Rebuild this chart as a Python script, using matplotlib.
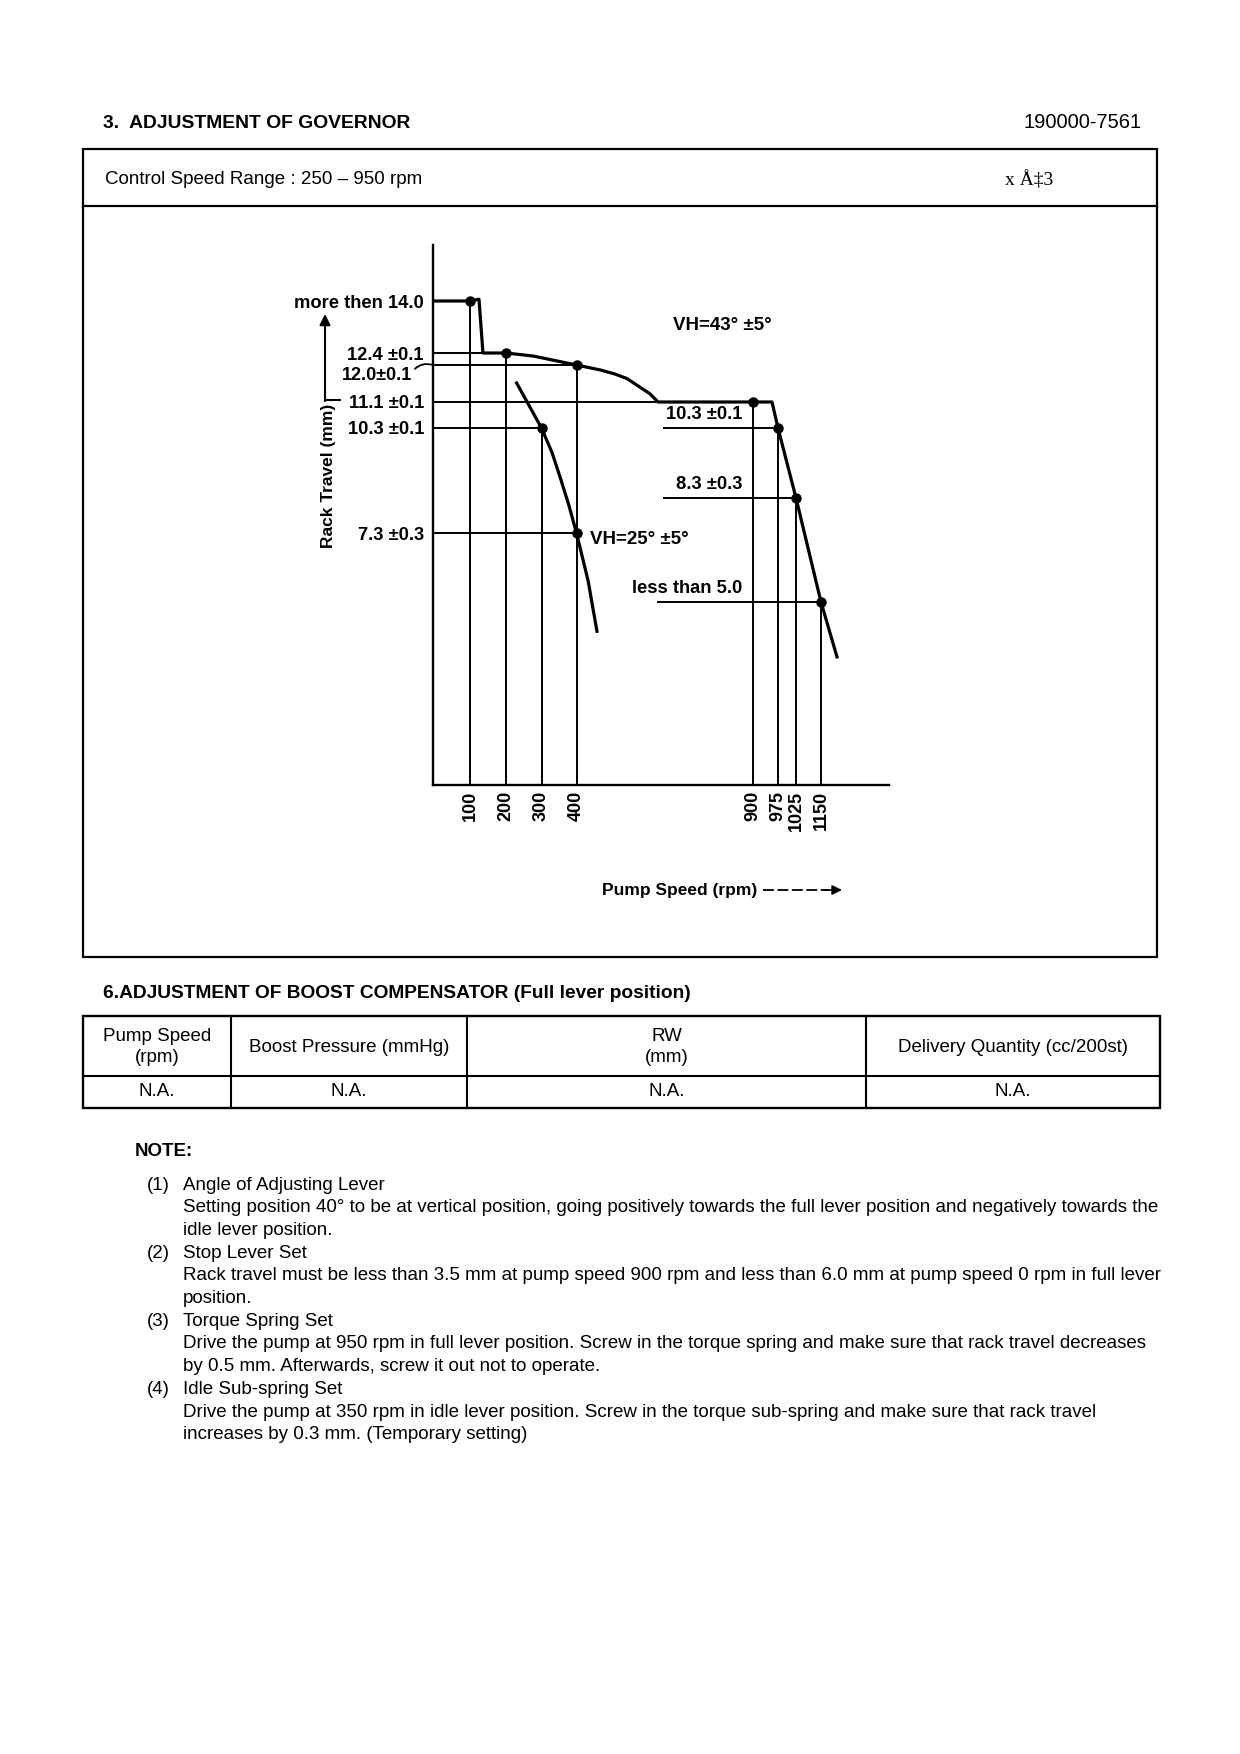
import numpy as np
import matplotlib
matplotlib.use("Agg")
import matplotlib.pyplot as plt
from matplotlib.patches import Rectangle

plt.rcParams['font.family'] = ['Liberation Sans', 'DejaVu Sans']

# Governor curve data (rpm, rack travel mm)
full_rpm = [0, 100, 125, 136, 200, 276, 400, 467, 509, 543, 580, 608, 631, 900, 957, 975, 1025, 1150, 1197]
full_mm = [14.0, 14.0, 14.05, 12.4, 12.4, 12.3, 12.0, 11.88, 11.78, 11.67, 11.46, 11.3, 11.1,
           11.1, 11.1, 10.3, 8.3, 5.0, 3.5]

idle_rpm = [230, 300, 330, 353, 378, 400, 433, 458]
idle_mm = [11.56, 10.3, 9.6, 8.9, 8.1, 7.3, 5.7, 4.2]

dot_rpm = [100, 200, 400, 300, 400, 900, 975, 1025, 1150]
dot_mm = [14.0, 12.4, 12.0, 10.3, 7.3, 11.1, 10.3, 8.3, 5.0]

# left horizontal guides: level -> rpm where it ends
left_levels = [14.0, 12.4, 12.0, 11.1, 10.3, 7.3]
left_level_end = [100, 200, 400, 900, 300, 400]

# vertical guides: rpm -> rack travel where it ends
speed_ticks = [100, 200, 300, 400, 900, 975, 1025, 1150]
speed_tick_top = [14.0, 12.4, 10.3, 12.0, 11.1, 10.3, 8.3, 5.0]

# right hand spec lines
right_levels = [10.3, 8.3, 5.0]
right_level_start = [645, 645, 628]
right_level_end = [975, 1025, 1150]
right_labels = ["10.3 \u00b10.1", "8.3 \u00b10.3", "less than 5.0"]

ytick_vals = [14.0, 12.4, 11.1, 10.3, 7.3]
ytick_labels = ["more then 14.0", "12.4 \u00b10.1", "11.1 \u00b10.1", "10.3 \u00b10.1", "7.3 \u00b10.3"]

# boost compensator table
table_head = ["Pump Speed\n(rpm)", "Boost Pressure (mmHg)", "RW\n(mm)", "Delivery Quantity (cc/200st)"]
table_row = ["N.A.", "N.A.", "N.A.", "N.A."]

notes = [
    ("(1)", ["Angle of Adjusting Lever",
             "Setting position 40\u00b0 to be at vertical position, going positively towards the full lever position and negatively towards the",
             "idle lever position."]),
    ("(2)", ["Stop Lever Set",
             "Rack travel must be less than 3.5 mm at pump speed 900 rpm and less than 6.0 mm at pump speed 0 rpm in full lever",
             "position."]),
    ("(3)", ["Torque Spring Set",
             "Drive the pump at 950 rpm in full lever position. Screw in the torque spring and make sure that rack travel decreases",
             "by 0.5 mm. Afterwards, screw it out not to operate."]),
    ("(4)", ["Idle Sub-spring Set",
             "Drive the pump at 350 rpm in idle lever position. Screw in the torque sub-spring and make sure that rack travel",
             "increases by 0.3 mm. (Temporary setting)"]),
]

# the drawing is schematic, not to scale -> piecewise scales
RPM_KNOTS = [0, 100, 200, 300, 400, 900, 975, 1025, 1150, 1350]
RPM_POS = [0, 37, 73, 108.5, 143.5, 320, 345, 363, 388, 456]
MM_KNOTS = [0, 5.0, 7.3, 8.3, 10.3, 11.1, 12.0, 12.4, 14.0, 15.6]
MM_POS = [0, 183, 252, 287, 357, 383, 420, 432, 484, 540]


def piecewise(k, p):
    k = np.asarray(k, float)
    p = np.asarray(p, float)

    def f(v):
        v = np.asarray(v, float)
        out = np.interp(v, k, p)
        out = np.where(v < k[0], p[0] + (v - k[0]) * (p[1] - p[0]) / (k[1] - k[0]), out)
        out = np.where(v > k[-1], p[-1] + (v - k[-1]) * (p[-1] - p[-2]) / (k[-1] - k[-2]), out)
        return out
    return f


fig = plt.figure(figsize=(12.4, 17.54), dpi=100)

# page layer in pixel coordinates
page = fig.add_axes([0, 0, 1, 1])
page.set_xlim(0, 1240)
page.set_ylim(1754, 0)
page.axis('off')

page.text(103, 123, "3.  ADJUSTMENT OF GOVERNOR", fontsize=13.9, fontweight='bold', va='center')
page.text(1142, 123, "190000-7561", fontsize=14.5, ha='right', va='center')
page.add_patch(Rectangle((83, 149), 1157 - 83, 957 - 149, fill=False, lw=1.6))
page.plot([83, 1157], [206, 206], color='black', lw=1.6)
page.text(105, 180, "Control Speed Range : 250 \u2013 950 rpm", fontsize=13.5, va='center')
page.text(1005, 180, "x \u00c5\u20213", family='Liberation Serif', fontsize=14, va='center')

# axis titles of the drawing
page.text(328, 476, "Rack Travel (mm)", rotation=90, ha='center', va='center',
          fontsize=12.5, fontweight='bold')
page.plot([340, 325], [400, 400], color='black', lw=1.5)
page.annotate('', xy=(325, 314), xytext=(325, 401),
              arrowprops=dict(arrowstyle='-|>', lw=1.5, color='black', mutation_scale=16,
                              shrinkA=0, shrinkB=0))
page.text(602, 890, "Pump Speed (rpm)", fontsize=12.5, fontweight='bold', va='center')
page.plot([763, 828], [890, 890], color='black', lw=1.3, linestyle=(0, (6, 2)))
page.annotate('', xy=(842, 890), xytext=(824, 890),
              arrowprops=dict(arrowstyle='-|>', lw=1.3, color='black', mutation_scale=14,
                              shrinkA=0, shrinkB=0))

# section 6 table
page.text(103, 993, "6.ADJUSTMENT OF BOOST COMPENSATOR (Full lever position)",
          fontsize=13.8, fontweight='bold', va='center')
col_edges = [83, 231, 467, 866, 1160]
t_top, t_mid, t_bot = 1016, 1076, 1108
page.add_patch(Rectangle((col_edges[0], t_top), col_edges[-1] - col_edges[0], t_bot - t_top,
                         fill=False, lw=1.7))
page.plot([col_edges[0], col_edges[-1]], [t_mid, t_mid], color='black', lw=1.5)
for xe in col_edges[1:-1]:
    page.plot([xe, xe], [t_top, t_bot], color='black', lw=1.5)
for i, (h, r) in enumerate(zip(table_head, table_row)):
    xc = (col_edges[i] + col_edges[i + 1]) / 2
    page.text(xc, 1047, h, ha='center', va='center', fontsize=13.5, linespacing=1.35)
    page.text(xc, 1092, r, ha='center', va='center', fontsize=13.5)

# notes
page.text(135, 1151, "NOTE:", fontsize=13.5, fontweight='bold', va='center')
yy = 1185
for num, lines in notes:
    page.text(147, yy, num, fontsize=13.5, va='center')
    for ln in lines:
        page.text(183, yy, ln, fontsize=13.5, va='center')
        yy += 22.7

# governor chart
ax = fig.add_axes([433 / 1240, 1 - 785 / 1754, 456 / 1240, 540 / 1754])
ax.patch.set_alpha(0)
fx = piecewise(RPM_KNOTS, RPM_POS)
ix = piecewise(RPM_POS, RPM_KNOTS)
fy = piecewise(MM_KNOTS, MM_POS)
iy = piecewise(MM_POS, MM_KNOTS)
ax.set_xscale('function', functions=(fx, ix))
ax.set_yscale('function', functions=(fy, iy))
ax.set_xlim(0, 1350)
ax.set_ylim(0, 15.6)

for s in ['top', 'right']:
    ax.spines[s].set_visible(False)
for s in ['left', 'bottom']:
    ax.spines[s].set_linewidth(1.7)

ax.hlines(left_levels, 0, left_level_end, color='black', lw=1.4, zorder=2)
ax.vlines(speed_ticks, 0, speed_tick_top, color='black', lw=1.4, zorder=2)
ax.hlines(right_levels, right_level_start, right_level_end, color='black', lw=1.4, zorder=2)

ax.plot(full_rpm, full_mm, color='black', lw=2.3, zorder=3, solid_joinstyle='round')
ax.plot(idle_rpm, idle_mm, color='black', lw=2.3, zorder=3, solid_joinstyle='round')
ax.plot(dot_rpm, dot_mm, 'o', color='black', ms=6.5, zorder=4)

ax.set_xticks(speed_ticks)
ax.set_xticklabels([str(v) for v in speed_ticks], rotation=90, fontsize=13, fontweight='bold')
ax.set_yticks(ytick_vals)
ax.set_yticklabels(ytick_labels, fontsize=13.2, fontweight='bold')
ax.tick_params(axis='x', length=0, pad=4)
ax.tick_params(axis='y', length=0, pad=6.5)
ax.minorticks_off()

ax.annotate("12.0\u00b10.1", xy=(0, 12.0), xytext=(-15, -7.5), textcoords='offset points',
            ha='right', va='center', fontsize=13, fontweight='bold', annotation_clip=False,
            arrowprops=dict(arrowstyle='-', connectionstyle='arc3,rad=-0.35', lw=1.3,
                            color='black', shrinkA=0, shrinkB=0, relpos=(1.0, 0.7)))

for lvl, lab in zip(right_levels, right_labels):
    ax.annotate(lab, xy=(869, lvl), xytext=(0, 10), textcoords='offset points',
                ha='right', va='center', fontsize=13.2, fontweight='bold')

ax.text(672, 13.26, "VH=43\u00b0 \u00b15\u00b0", ha='left', va='center', fontsize=13.5, fontweight='bold')
ax.annotate("VH=25\u00b0 \u00b15\u00b0", xy=(400, 7.3), xytext=(10, -5), textcoords='offset points',
            ha='left', va='center', fontsize=13.5, fontweight='bold')

fig.savefig("out.png", dpi=100, facecolor='white')
